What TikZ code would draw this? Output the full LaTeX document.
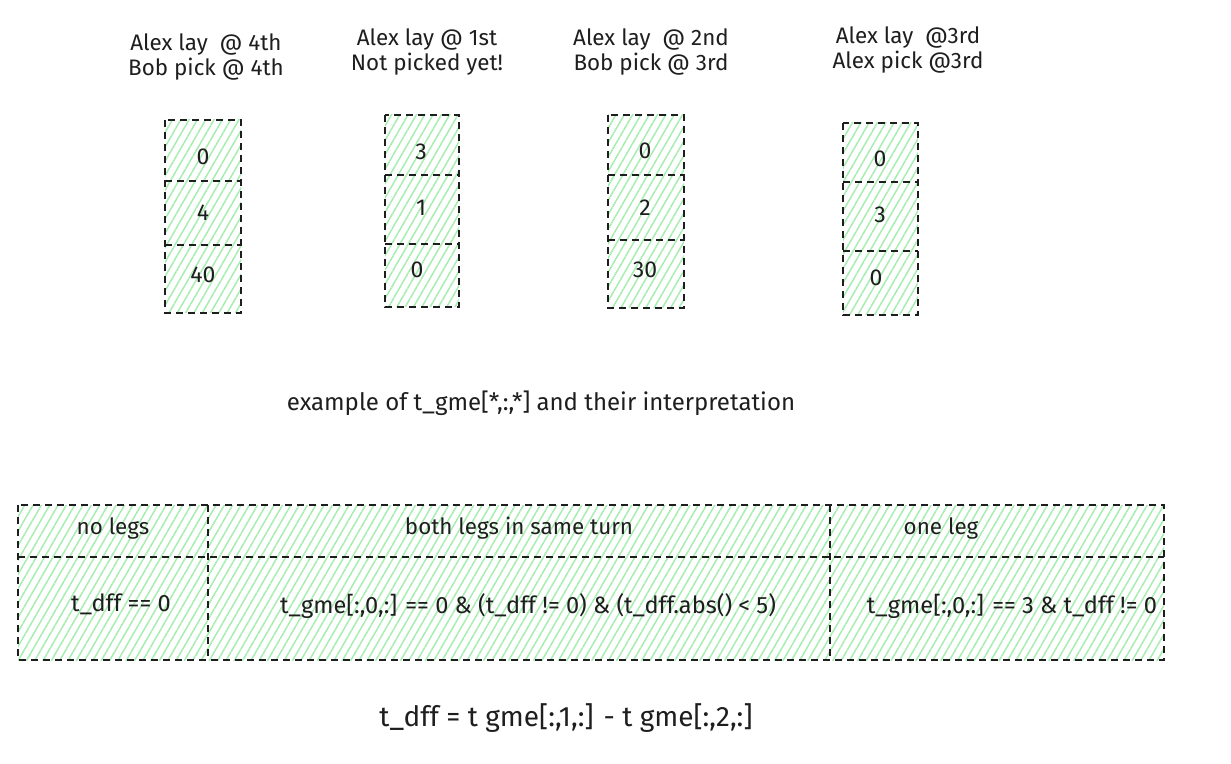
\documentclass[tikz,border=0pt]{standalone}
\usepackage{fontspec}
\setmainfont{Fira Sans}
\usetikzlibrary{patterns.meta}
\definecolor{hatchgreen}{HTML}{A6EDB0}
\definecolor{ink}{HTML}{1E1E1E}
\tikzset{
	cell/.style={draw=ink, line width=1.3pt, dash pattern=on 3.5pt off 2.5pt,
		pattern={Lines[angle=60,distance=3.6pt,line width=0.75pt]}, pattern color=hatchgreen},
	split/.style={draw=ink, line width=1.3pt, dash pattern=on 3.5pt off 2.5pt},
	label/.style={font=\fontsize{11.2}{12.5}\selectfont, align=center, text=ink},
	value/.style={font=\fontsize{11.5}{13}\selectfont, text=ink},
	formula/.style={font=\fontsize{11.8}{13}\selectfont, text=ink},
	caption/.style={font=\fontsize{12}{14}\selectfont, text=ink}
}
\begin{document}
\begin{tikzpicture}[x=0.5pt, y=-0.5pt]
	\useasboundingbox (0,0) rectangle (1231,764);
	
	% four example columns
	\node[label] (t1) at (206,57) {Alex lay~ @ 4th\\Bob pick @ 4th};
	\draw[cell] (165,120) rectangle (241,313);
	\draw[split] (165,181) -- (241,181) (165,245) -- (241,245);
	\node[value] (c1a) at (203,157) {0};
	\node[value] (c1b) at (203,213) {4};
	\node[value] (c1c) at (203,275) {40};
	
	\node[label] (t2) at (427,52) {Alex lay @ 1st\\Not picked yet!};
	\draw[cell] (385,115) rectangle (459,307);
	\draw[split] (385,175) -- (459,175) (385,244) -- (459,244);
	\node[value] (c2a) at (421,152) {3};
	\node[value] (c2b) at (421,208) {1};
	\node[value] (c2c) at (417,270) {0};
	
	\node[label] (t3) at (651,52) {Alex lay~ @ 2nd\\Bob pick @ 3rd};
	\draw[cell] (608,115) rectangle (684,308);
	\draw[split] (608,175) -- (684,175) (608,240) -- (684,240);
	\node[value] (c3a) at (645,151) {0};
	\node[value] (c3b) at (645,208) {2};
	\node[value] (c3c) at (645,270) {30};
	
	\node[label] (t4) at (908,50) {Alex lay~ @3rd\\Alex pick @3rd};
	\draw[cell] (843,123) rectangle (918,315);
	\draw[split] (843,182) -- (918,182) (843,251) -- (918,251);
	\node[value] (c4a) at (880,159) {0};
	\node[value] (c4b) at (880,215) {3};
	\node[value] (c4c) at (876,278) {0};
	
	\node[caption] (cap) at (541,403) {example of t\_gme[*,:,*] and their interpretation};
	
	% interpretation table
	\draw[cell] (18,505) rectangle (1164,660);
	\draw[split] (18,557) -- (1164,557) (208,505) -- (208,660) (830,505) -- (830,660);
	\node[label] (h1) at (113,528) {no legs};
	\node[label] (h2) at (519,528) {both legs in same turn};
	\node[label] (h3) at (941,528) {one leg};
	\node[formula] (r1) at (121,604) {t\_dff == 0};
	\node[formula] (r2) at (528,606) {t\_gme[:,0,:] == 0 \& (t\_dff != 0) \& (t\_dff.abs() < 5)};
	\node[formula] (r3) at (1012,606) {t\_gme[:,0,:] == 3 \& t\_dff != 0};
	
	\node[font=\fontsize{14}{16}\selectfont, text=ink] (dff) at (566,718) {t\_dff = t gme[:,1,:] - t gme[:,2,:]};
\end{tikzpicture}
\end{document}
